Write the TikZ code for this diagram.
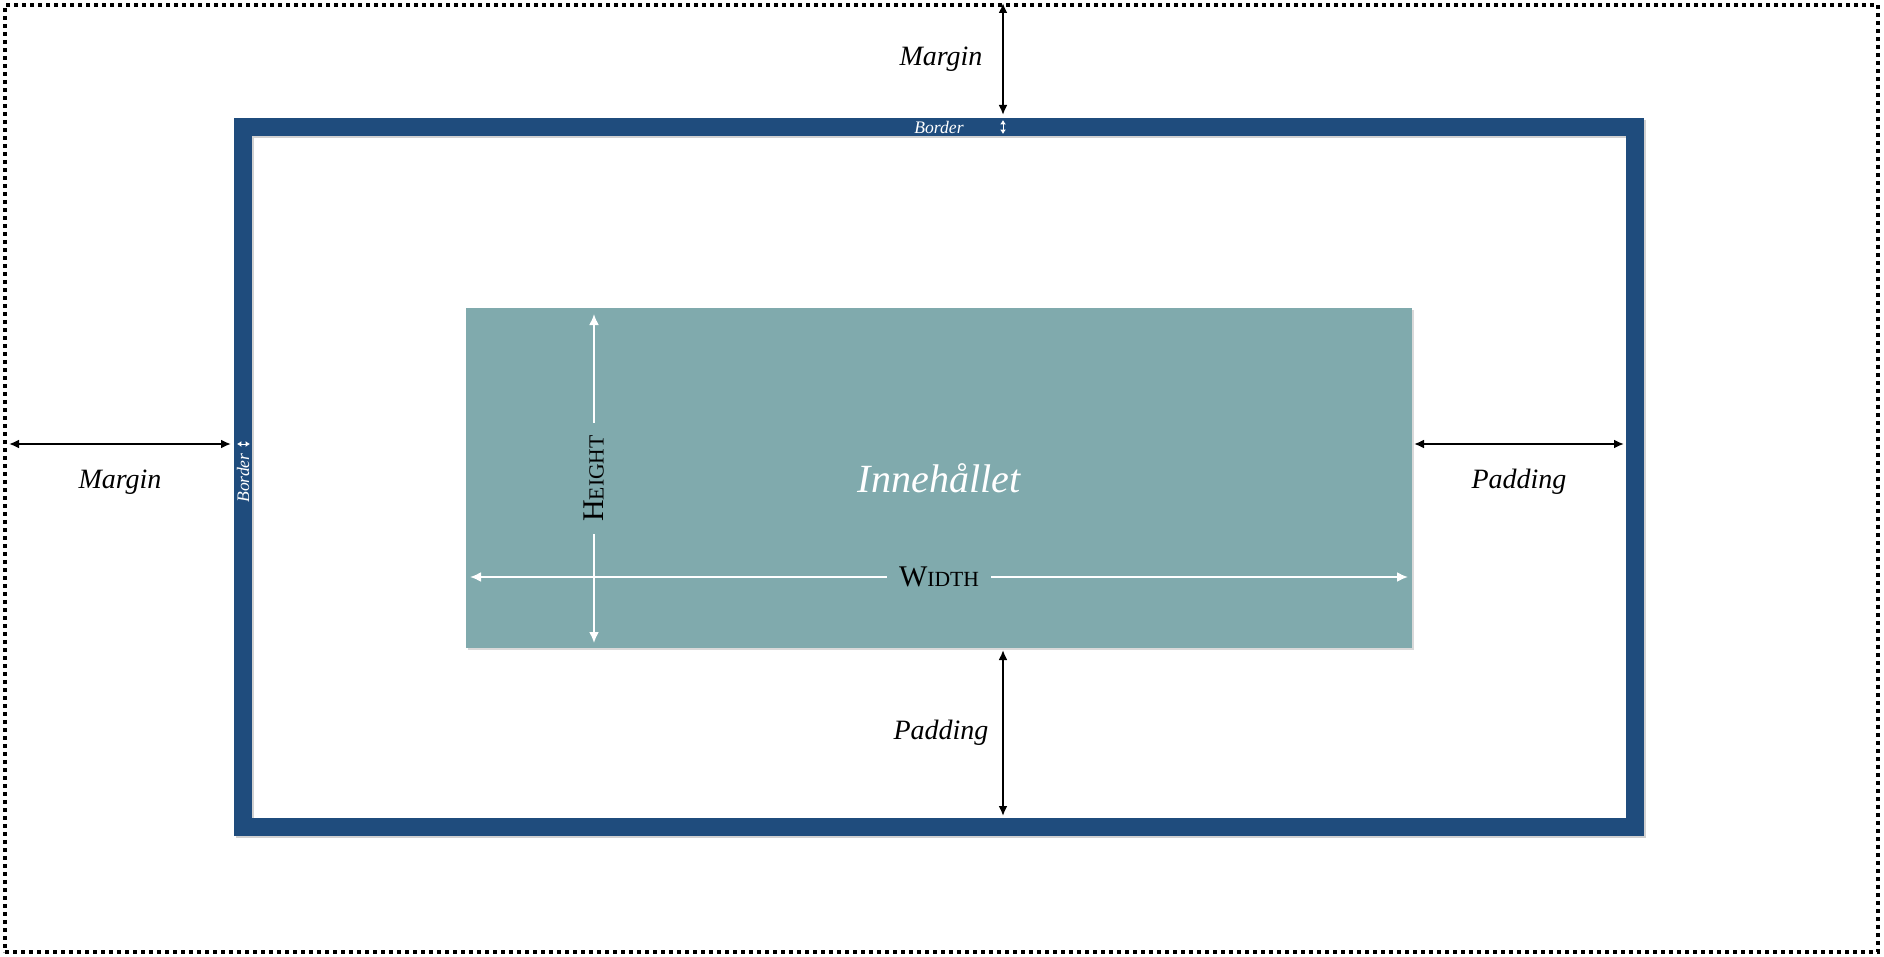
\documentclass[tikz,border=0pt]{standalone}
\usepackage{fontspec}
\setmainfont{Liberation Serif}
\usepackage{tikz}
\usetikzlibrary{positioning,calc,arrows.meta,shadows}
\definecolor{borderblue}{RGB}{31,76,125}
\definecolor{contentteal}{RGB}{128,170,173}
\newcommand{\smallcap}[2]{{\fontsize{15}{17}\selectfont #1}{\fontsize{10.8}{13}\selectfont #2}}
\tikzset{pagebox/.style={draw, line width=2pt, dash pattern=on 2pt off 2pt,
    minimum width=936.5pt, minimum height=473.5pt, inner sep=0pt},
  borderbox/.style={draw=borderblue, line width=9pt, inner sep=0pt,
    minimum width=696pt, minimum height=350pt,
    preaction={draw=black!18, line width=9pt, transform canvas={shift={(0.8pt,-1pt)}}}},
  contentbox/.style={fill=contentteal, minimum width=473pt, minimum height=170pt,
    outer sep=0pt, text=white, font=\fontsize{20}{23}\selectfont\itshape,
    drop shadow={shadow xshift=0.8pt, shadow yshift=-0.8pt, opacity=0.3}},
  dim/.style={line width=1pt, {Latex[length=5pt,width=4.5pt]}-{Latex[length=5pt,width=4.5pt]}},
  whitedim/.style={white, line width=1pt, {Latex[length=5.5pt,width=5pt]}-{Latex[length=5.5pt,width=5pt]}},
  tinydim/.style={white, line width=0.5pt, {Latex[length=2.2pt,width=3pt]}-{Latex[length=2.2pt,width=3pt]}},
  lbl/.style={font=\fontsize{14}{16}\selectfont\itshape},
  sclbl/.style={text=black, fill=contentteal, inner xsep=6pt, inner ysep=1pt},
  tinylbl/.style={text=white, inner sep=0pt, font=\fontsize{8.8}{10}\selectfont\itshape}
}
\begin{document}
\begin{tikzpicture}[x=0.5pt, y=-0.5pt]
  \useasboundingbox (0,0) rectangle (1884,957);
  % boxes
  \node[pagebox]    (page)    at (941.5,478.5) {};
  \node[borderbox]  (border)  at (939,477)     {};
  \node[contentbox] (content) at (939,478)     {Innehållet};

  % helper lines for the arrows
  \coordinate (mx) at (1003,0);
  \coordinate (my) at (0,444);
  \coordinate (hx) at (594,0);
  \coordinate (wy) at (0,577);

  % margin
  \draw[dim] (page.north -| mx) -- node[lbl, xshift=-31pt] {Margin} ($(border.north -| mx)+(0,-3)$);
  \draw[dim] ($(page.west |- my)+(6,0)$) -- node[lbl, yshift=-19pt] {Margin} ($(border.west |- my)+(-3,0)$);

  % border
  \draw[tinydim] ($(border.north -| mx)+(0,2)$) -- ($(border.north -| mx)+(0,16)$);
  \draw[tinydim] ($(border.west |- my)+(3,0)$) -- ($(border.west |- my)+(16,0)$);
  \node[tinylbl]            (btop)  at ($(border.north)+(0,9)$)              {Border};
  \node[tinylbl, rotate=90] (bleft) at ($(border.west |- content.west)+(9,0)$) {Border};

  % padding
  \draw[dim] ($(content.east |- my)+(2,0)$) -- node[lbl, yshift=-19pt] {Padding} ($(border.east |- my)+(-20,0)$);
  \draw[dim] ($(content.south -| mx)+(0,2)$) -- node[lbl, xshift=-31pt] {Padding} ($(border.south -| mx)+(0,-20)$);

  % height and width
  \draw[whitedim] ($(content.north -| hx)+(0,6)$) -- node[sclbl, rotate=90] {\smallcap{H}{EIGHT}} ($(content.south -| hx)+(0,-5)$);
  \draw[whitedim] ($(content.west |- wy)+(4,0)$) -- node[sclbl] {\smallcap{W}{IDTH}} ($(content.east |- wy)+(-4,0)$);
\end{tikzpicture}
\end{document}
